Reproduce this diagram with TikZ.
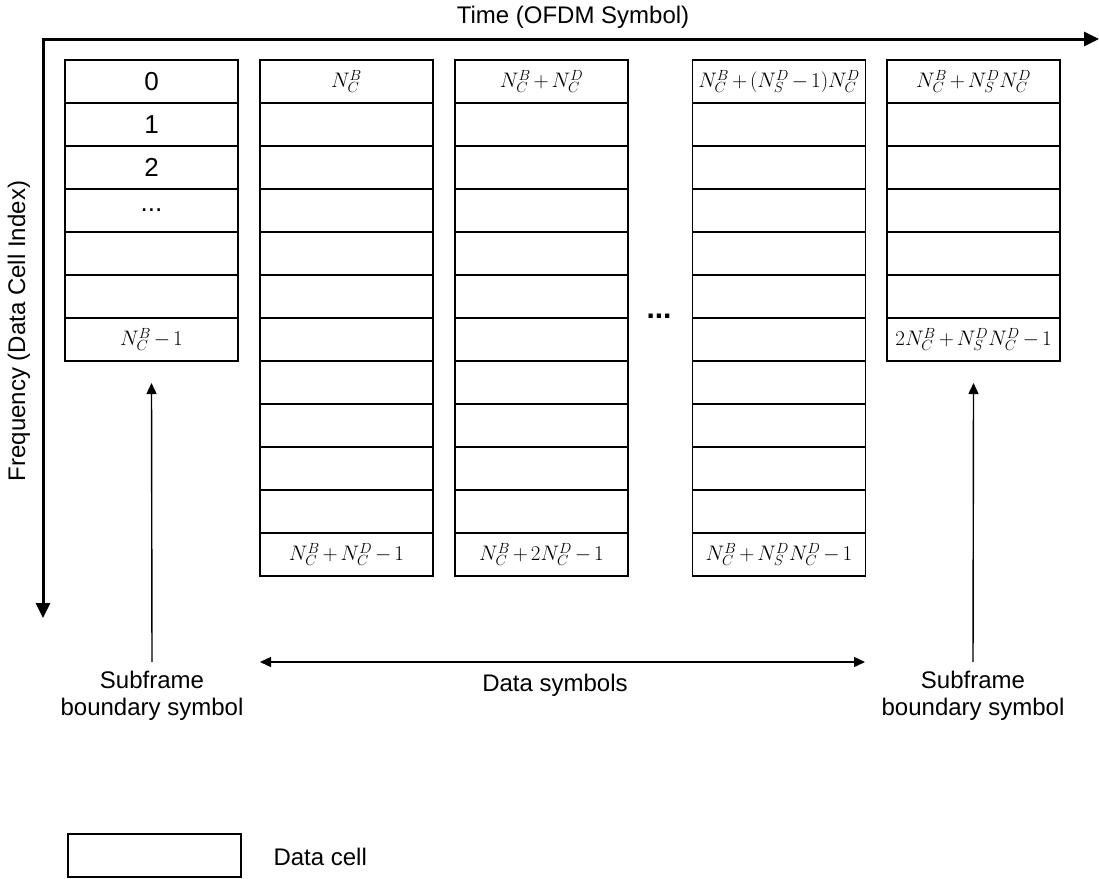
\RequirePackage{fix-cm}
\documentclass[tikz,border=0pt]{standalone}
\usepackage{fontspec}
\setmainfont{Liberation Sans}
\usetikzlibrary{arrows.meta}
\newcommand{\threedots}{.\kern0pt.\kern0pt.}
\medmuskip=2.5mu
\begin{document}
\begin{tikzpicture}[x=1pt,y=-1pt,
  cell/.style={draw, line width=1.4pt, minimum width=173pt, minimum height=43pt, inner sep=0pt, outer sep=0pt, font=\fontsize{21}{24}\selectfont},
  digit/.style={font=\fontsize{26}{28}\selectfont},
  lbl/.style={font=\fontsize{24}{27}\selectfont, align=center},
  axisline/.style={line width=3pt, line join=miter},
  thinarrow/.style={line width=1.4pt, -{Triangle[length=11pt,width=10pt]}},
  thinboth/.style={line width=1.4pt, {Triangle[length=11pt,width=10pt]}-{Triangle[length=11pt,width=10pt]}}]
\useasboundingbox (0,0) rectangle (1099,878);

% axes
\coordinate (corner) at (43,39);
\coordinate (tend) at (1099,39);
\coordinate (fend) at (43,618);
\draw[axisline, {Triangle[length=15pt,width=14pt]}-{Triangle[length=15pt,width=14pt]}] (tend) -- (corner) -- (fend);
\node[lbl] (tlabel) at (573,17) {Time (OFDM Symbol)};
\node[lbl, rotate=90] (flabel) at (19,331) {Frequency (Data Cell Index)};

% column 1 (subframe boundary)
\foreach \j/\t in {0/0,1/1,2/2,3/\threedots,4/,5/}
  \node[cell, digit] (a\j) at (151.5,{81.5+43*\j}) {\t};
\node[cell] (a6) at (151.5,{81.5+43*6}) {$N_C^B-1$};

% column 2
\foreach \j in {1,...,10}
  \node[cell] (b\j) at (346.5,{81.5+43*\j}) {};
\node[cell] (b0) at (346.5,81.5) {$N_C^B$};
\node[cell] (b11) at (346.5,{81.5+43*11}) {$N_C^B+N_C^D-1$};

% column 3
\foreach \j in {1,...,10}
  \node[cell] (c\j) at (541.5,{81.5+43*\j}) {};
\node[cell] (c0) at (541.5,81.5) {$N_C^B+N_C^D$};
\node[cell] (c11) at (541.5,{81.5+43*11}) {$N_C^B+2N_C^D-1$};

% ellipsis
\node[font=\fontsize{30}{30}\selectfont\bfseries] (dots) at (659,316) {\threedots};

% column 4
\foreach \j in {1,...,10}
  \node[cell] (d\j) at (779,{81.5+43*\j}) {};
\node[cell] (d0) at (779,81.5) {$N_C^B+\bigl(N_S^D-1\bigr)N_C^D$};
\node[cell] (d11) at (779,{81.5+43*11}) {$N_C^B+N_S^DN_C^D-1$};

% column 5
\foreach \j in {1,...,5}
  \node[cell] (e\j) at (973.5,{81.5+43*\j}) {};
\node[cell] (e0) at (973.5,81.5) {$N_C^B+N_S^DN_C^D$};
\node[cell] (e6) at (973.5,{81.5+43*6}) {$2N_C^B+N_S^DN_C^D-1$};

% bottom labels and arrows
\node[lbl, anchor=north, inner sep=2pt] (sb1) at (152,669) {Subframe\\boundary symbol};
\node[lbl, anchor=north, inner sep=2pt] (sb2) at (973,669) {Subframe\\boundary symbol};
\draw[thinarrow] ([yshift=7pt]sb1.north) -- ([yshift=-22pt]a6.south);
\draw[thinarrow] ([yshift=7pt]sb2.north) -- ([yshift=-22pt]e6.south);

\coordinate (ds1) at (260,662);
\coordinate (ds2) at (865,662);
\draw[thinboth] (ds1) -- (ds2);
\node[lbl] (dslabel) at (555,685) {Data symbols};

% legend
\node[cell] (leg) at (154.5,855.5) {};
\node[lbl, anchor=west] (legtext) at (270,857) {Data cell};
\end{tikzpicture}
\end{document}
